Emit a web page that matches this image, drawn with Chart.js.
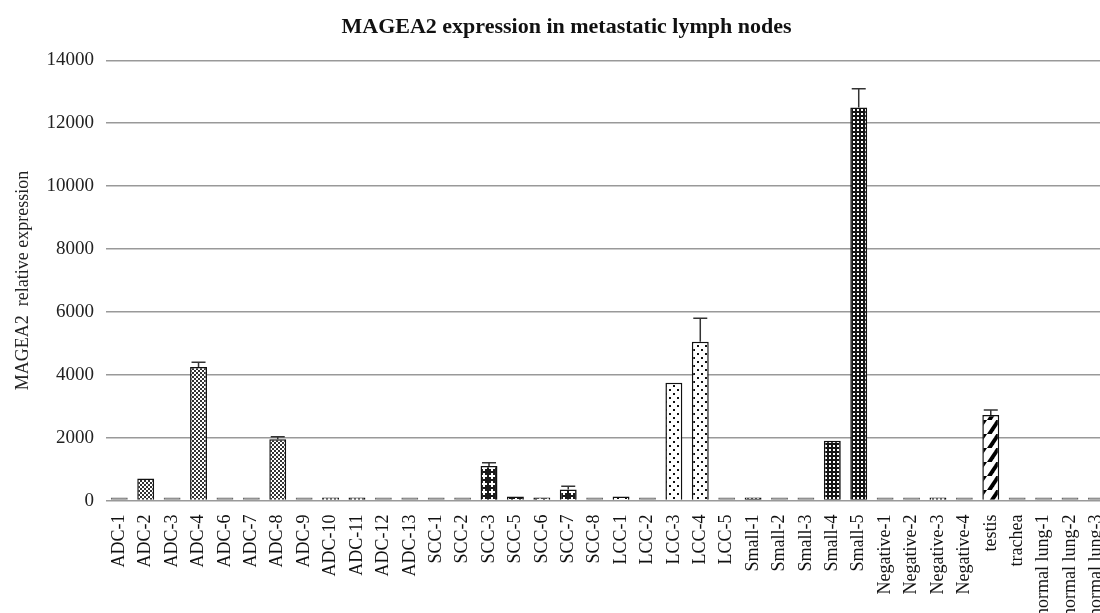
<!DOCTYPE html>
<html lang="en">
<head>
  <meta charset="UTF-8" />
  <title>MAGEA2 expression</title>
  <script src="https://cdn.jsdelivr.net/npm/chart.js"></script>
  <style>
    html, body { margin: 0; padding: 0; background: #fff; overflow: hidden; }
    .box { position: relative; width: 1124px; height: 640px; }
  </style>
</head>
<body>
  <div class="box">
    <canvas id="grafico"></canvas>
  </div>

<script>
// dados
var amostras = ['ADC-1', 'ADC-2', 'ADC-3', 'ADC-4', 'ADC-6', 'ADC-7', 'ADC-8', 'ADC-9', 'ADC-10', 'ADC-11', 'ADC-12', 'ADC-13',
  'SCC-1', 'SCC-2', 'SCC-3', 'SCC-5', 'SCC-6', 'SCC-7', 'SCC-8',
  'LCC-1', 'LCC-2', 'LCC-3', 'LCC-4', 'LCC-5',
  'Small-1', 'Small-2', 'Small-3', 'Small-4', 'Small-5',
  'Negative-1', 'Negative-2', 'Negative-3', 'Negative-4',
  'testis', 'trachea', 'normal lung-1', 'normal lung-2', 'normal lung-3'];

var expressao = [0, 700, 0, 4250, 0, 0, 1950, 0, 30, 40, 0, 0,
  0, 0, 1100, 130, 50, 350, 0,
  130, 0, 3750, 5050, 0,
  60, 0, 0, 1900, 12500,
  0, 0, 100, 0,
  2720, 0, 0, 0, 0];

var erro = [0, 0, 0, 150, 0, 0, 80, 0, 0, 0, 0, 0,
  0, 0, 100, 0, 0, 100, 0,
  0, 0, 0, 750, 0,
  0, 0, 0, 0, 600,
  0, 0, 0, 0,
  160, 0, 0, 0, 0];

var ticksY = [0, 2000, 4000, 6000, 8000, 10000, 12000, 14000];

// padroes de preenchimento --------------------------------------------
function tile(w, h, desenha) {
  var c = document.createElement('canvas');
  c.width = w; c.height = h;
  var g = c.getContext('2d');
  desenha(g, w, h);
  return document.getElementById('grafico').getContext('2d').createPattern(c, 'repeat');
}

var padroes = {
  ADC: tile(4, 4, function (g) {
    g.fillStyle = '#fff'; g.fillRect(0, 0, 4, 4);
    g.fillStyle = '#333'; g.fillRect(0, 0, 2, 2); g.fillRect(2, 2, 2, 2);
  }),
  SCC: tile(8, 8, function (g) {
    g.fillStyle = '#1a1a1a'; g.fillRect(0, 0, 8, 8);
    g.fillStyle = '#fff'; g.fillRect(3, 1, 2, 6); g.fillRect(1, 3, 6, 2);
  }),
  LCC: tile(8, 8, function (g) {
    g.fillStyle = '#fff'; g.fillRect(0, 0, 8, 8);
    g.fillStyle = '#111'; g.fillRect(1, 1, 2, 2); g.fillRect(5, 5, 2, 2);
  }),
  Small: tile(4, 4, function (g) {
    g.fillStyle = '#151515'; g.fillRect(0, 0, 4, 4);
    g.fillStyle = '#fff'; g.fillRect(1, 1, 2, 2);
  }),
  Negative: tile(4, 4, function (g) {
    g.fillStyle = '#fff'; g.fillRect(0, 0, 4, 4);
    g.fillStyle = '#333'; g.fillRect(0, 0, 2, 4);
  }),
  testis: tile(14, 14, function (g) {
    g.fillStyle = '#fff'; g.fillRect(0, 0, 14, 14);
    g.strokeStyle = '#000'; g.lineWidth = 4;
    for (var k = -14; k <= 28; k += 14) {
      g.beginPath(); g.moveTo(k - 14, 14 + 14); g.lineTo(k + 14, 0 - 14); g.stroke();
    }
  }),
  outro: '#707070'
};

function grupo(nome) {
  var p = nome.split('-')[0];
  return padroes[p] || padroes.outro;
}

var preenchimento = [];
var bordas = [];
for (let i = 0; i < amostras.length; i++) {
  preenchimento.push(expressao[i] === 0 ? '#707070' : grupo(amostras[i]));
  bordas.push(expressao[i] === 0 ? '#6a6a6a' : '#111');
}

// barras de erro
const barrasErro = {
  id: 'barrasErro',
  afterDatasetsDraw(chart) {
    const ctx = chart.ctx;
    const meta = chart.getDatasetMeta(0);
    const y = chart.scales.y;
    ctx.save();
    ctx.strokeStyle = '#333';
    ctx.lineWidth = 1.5;
    for (let i = 0; i < erro.length; i++) {
      if (!erro[i]) continue;
      const x = meta.data[i].x;
      const y0 = y.getPixelForValue(expressao[i]);
      const y1 = y.getPixelForValue(expressao[i] + erro[i]);
      ctx.beginPath();
      ctx.moveTo(x, y0); ctx.lineTo(x, y1);
      ctx.moveTo(x - 7, y1); ctx.lineTo(x + 7, y1);
      ctx.stroke();
    }
    ctx.restore();
  }
};

const serif = "'Liberation Serif', 'Times New Roman', serif";

new Chart(document.getElementById('grafico'), {
  type: 'bar',
  data: {
    labels: amostras,
    datasets: [{
      label: 'MAGEA2',
      data: expressao,
      backgroundColor: preenchimento,
      borderColor: bordas,
      borderWidth: 1.5,
      minBarLength: 3,
      barPercentage: 0.64,
      categoryPercentage: 1.0
    }]
  },
  plugins: [barrasErro],
  options: {
    responsive: true,
    maintainAspectRatio: false,
    animation: false,
    layout: { padding: { top: 6, left: 9, right: 0, bottom: 17 } },
    plugins: {
      legend: { display: false },
      tooltip: { enabled: false },
      title: {
        display: true,
        text: 'MAGEA2 expression in metastatic lymph nodes',
        color: '#111',
        font: { family: serif, size: 22, weight: 'bold' },
        padding: { top: 8, bottom: 20 }
      }
    },
    scales: {
      x: {
        grid: { display: false },
        border: { display: false },
        ticks: {
          autoSkip: false,
          maxRotation: 90,
          minRotation: 90,
          padding: 6,
          color: '#111',
          font: { family: serif, size: 18 }
        }
      },
      y: {
        min: 0,
        max: 14000,
        afterBuildTicks: function (axis) {
          axis.ticks = ticksY.map(function (v) { return { value: v }; });
        },
        grid: { color: '#999', lineWidth: 1.6, drawTicks: false },
        border: { display: false },
        ticks: {
          padding: 12,
          color: '#222',
          font: { family: serif, size: 19 },
          callback: function (v) { return String(v); }
        },
        title: {
          display: true,
          text: 'MAGEA2  relative expression',
          color: '#222',
          font: { family: serif, size: 18 },
          padding: { top: 3, bottom: 1 }
        }
      }
    }
  }
});
</script>
</body>
</html>
